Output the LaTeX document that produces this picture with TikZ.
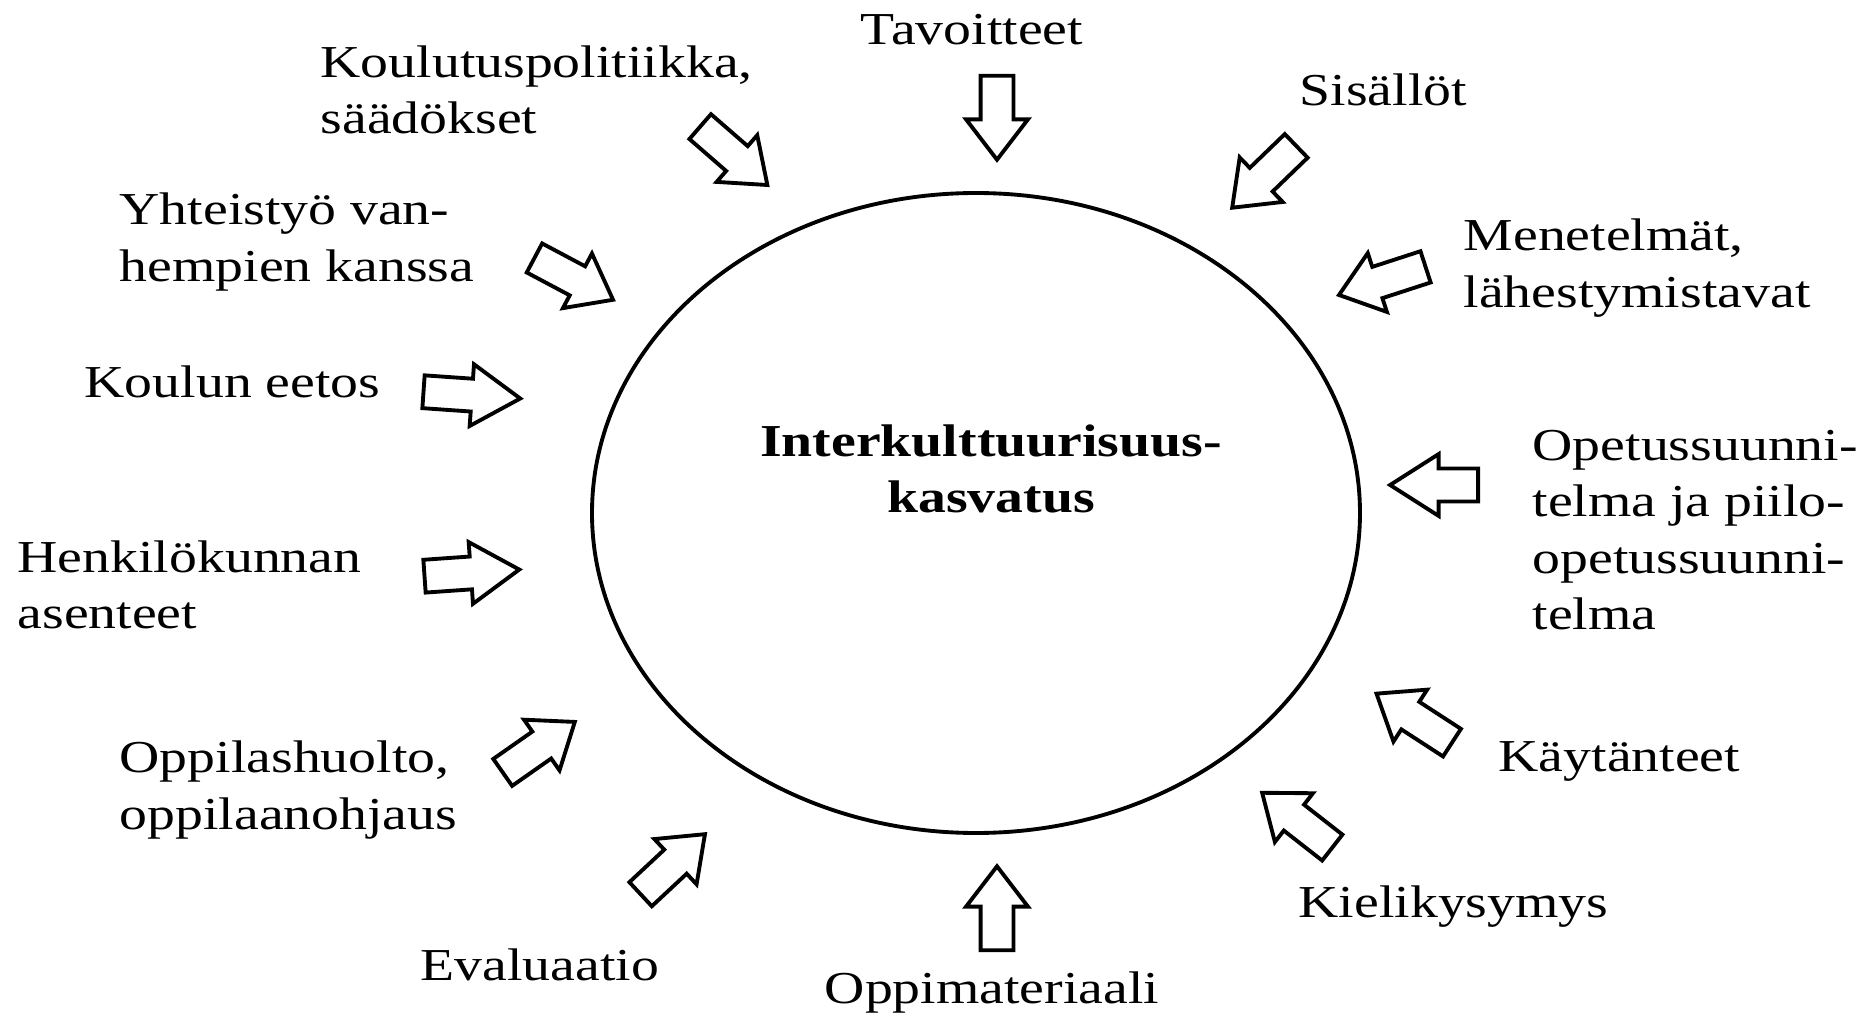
\documentclass[tikz,border=0pt]{standalone}
\usepackage{fontspec}
\setmainfont{Liberation Serif}[FakeStretch=1.22]
\usetikzlibrary{shapes.geometric,shapes.arrows}

\tikzset{
  inarrow/.style={single arrow, draw, line width=1.1pt, inner xsep=0pt,
    inner ysep=0.145cm, single arrow head extend=0.145cm,
    single arrow tip angle=75, minimum height=0.89cm},
  % pull the shape back so that its middle sits on the given point
  recenter/.style={xshift=-0.11cm},
  lbl/.style={font=\fontsize{13}{16}\selectfont, align=left, anchor=west, inner sep=0pt},
}

\begin{document}
\begin{tikzpicture}

\useasboundingbox (0,0) rectangle (18.72,10.18);

% Circle in the middle
\node[ellipse, draw, line width=1.1pt, minimum width=7.68cm, minimum height=6.4cm] (core) at (9.76,5.05) {};
\node[lbl, anchor=center, align=center, font=\fontsize{13}{16}\selectfont\bfseries] (corelbl) at (9.91,5.49) {Interkulttuurisuus-\\kasvatus};

% Factors, top half
\node[lbl, anchor=center] (tavoit) at (9.72,9.88) {Tavoitteet};
\node[lbl] (koulut) at (3.20,9.28) {Koulutuspolitiikka,\\säädökset};
\node[lbl] (sisal) at (12.99,9.28) {Sisällöt};
\node[lbl] (yhteis) at (1.19,7.76) {Yhteistyö van-\\hempien kanssa};
\node[lbl] (menet) at (14.63,7.50) {Menetelmät,\\lähestymistavat};
\node[lbl] (eetos) at (0.84,6.36) {Koulun eetos};
\node[lbl] (opetus) at (15.32,4.88) {Opetussuunni-\\telma ja piilo-\\opetussuunni-\\telma};

% Factors, bottom half
\node[lbl] (henk) at (0.17,4.33) {Henkilökunnan\\asenteet};
\node[lbl] (oppil) at (1.19,2.28) {Oppilashuolto,\\oppilaanohjaus};
\node[lbl] (kayt) at (14.98,2.57) {Käytänteet};
\node[lbl] (kieli) at (12.98,1.11) {Kielikysymys};
\node[lbl] (evalu) at (4.20,0.53) {Evaluaatio};
\node[lbl, anchor=center] (oppim) at (9.92,0.25) {Oppimateriaali};

% Arrows
\node[inarrow, rotate=-90, recenter, minimum height=0.84cm] (a-tavoit) at (9.97,9.00) {};
\node[inarrow, rotate=-41, recenter] (a-koulut) at (7.34,8.62) {};
\node[inarrow, rotate=224, recenter] (a-sisal) at (12.64,8.41) {};
\node[inarrow, rotate=-28, recenter] (a-yhteis) at (5.74,7.39) {};
\node[inarrow, rotate=198, recenter, minimum height=0.91cm] (a-menet) at (13.82,7.37) {};
\node[inarrow, rotate=-4, recenter, minimum height=0.97cm, single arrow tip angle=65] (a-eetos) at (4.70,6.23) {};
\node[inarrow, rotate=180, recenter, minimum height=0.88cm, single arrow tip angle=65] (a-opetus) at (14.36,5.33) {};
\node[inarrow, rotate=4, recenter, minimum height=0.95cm, single arrow tip angle=65] (a-henk) at (4.70,4.45) {};
\node[inarrow, rotate=147, recenter, minimum height=0.90cm] (a-kayt) at (14.14,3.00) {};
\node[inarrow, rotate=35, recenter, minimum height=0.88cm] (a-oppil) at (5.39,2.71) {};
\node[inarrow, rotate=142, recenter] (a-kieli) at (12.97,1.98) {};
\node[inarrow, rotate=43, recenter, minimum height=0.88cm] (a-evalu) at (6.73,1.54) {};
\node[inarrow, rotate=90, recenter, minimum height=0.84cm] (a-oppim) at (9.97,1.10) {};

\end{tikzpicture}
\end{document}
